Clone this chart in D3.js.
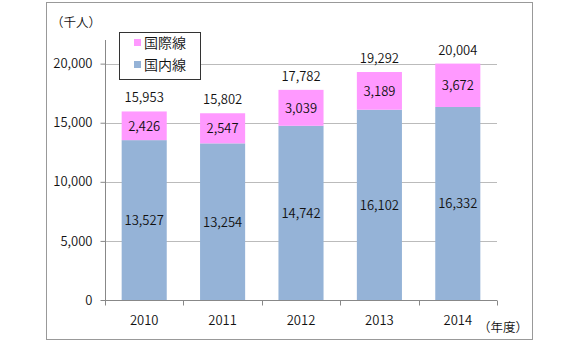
<!DOCTYPE html>
<html><head><meta charset="utf-8">
<script src="https://cdn.jsdelivr.net/npm/d3@7"></script>
<style>
body{margin:0;background:#fff;}
text{font-family:"Noto Sans CJK JP","Noto Sans",sans-serif;fill:#111;font-weight:350;}
</style></head>
<body><svg id="c" width="580" height="360"></svg>
<script>
const years = ["2010","2011","2012","2013","2014"];
const domestic = [13527,13254,14742,16102,16332];
const international = [2426,2547,3039,3189,3672];
const totals = [15953,15802,17782,19292,20004];
const yTicks = [0,5000,10000,15000,20000];
const seriesNames = ["国際線","国内線"];
const colors = {dom:"#95B3D7", intl:"#FF99FF"};

const svg = d3.select("#c");
const fmt = d3.format(",");
// outer border
svg.append("rect").attr("x",46.5).attr("y",2.5).attr("width",486).attr("height",337)
  .attr("fill","none").attr("stroke","#999").attr("stroke-width",1);

const pL=105, pR=497, pT=40, pB=300;
const x = d3.scaleBand().domain(years).range([pL,pR]).paddingInner(0.425).paddingOuter(0.2125);
const y = d3.scaleLinear().domain([0,22000]).range([pB,pT]);

// gridlines
svg.append("g").selectAll("line").data(yTicks.filter(d=>d>0)).join("line")
  .attr("x1",pL).attr("x2",pR).attr("y1",d=>Math.round(y(d))+0.5).attr("y2",d=>Math.round(y(d))+0.5)
  .attr("stroke","#bbb").attr("stroke-width",1);

// bars
const data = years.map((yr,i)=>({yr,dom:domestic[i],intl:international[i],tot:totals[i]}));
const g = svg.append("g");
g.selectAll("rect.dom").data(data).join("rect").attr("class","dom")
  .attr("x",d=>x(d.yr)).attr("width",x.bandwidth())
  .attr("y",d=>y(d.dom)).attr("height",d=>y(0)-y(d.dom)).attr("fill",colors.dom);
g.selectAll("rect.intl").data(data).join("rect").attr("class","intl")
  .attr("x",d=>x(d.yr)).attr("width",x.bandwidth())
  .attr("y",d=>y(d.dom+d.intl)).attr("height",d=>y(d.dom)-y(d.dom+d.intl)).attr("fill",colors.intl);

// axes
const yAxis = d3.axisLeft(y).tickValues(yTicks).tickFormat(fmt).tickSize(5).tickPadding(8);
const ya = svg.append("g").attr("transform",`translate(${pL+0.5},0)`).call(yAxis);
ya.select(".domain").attr("stroke","#888").attr("d",`M0,${pT}V${pB+0.5}`);
ya.selectAll(".tick line").attr("stroke","#888");
ya.selectAll(".tick text").attr("font-size",13).style("fill","#111").attr("font-family",'"Noto Sans CJK JP",sans-serif');

const xa = svg.append("g").attr("transform",`translate(0,${pB+0.5})`);
xa.append("line").attr("x1",pL).attr("x2",pR).attr("stroke","#888");
const bounds = d3.range(years.length+1).map(i=>pL + i*(pR-pL)/years.length);
xa.selectAll("line.t").data(bounds).join("line").attr("class","t")
  .attr("x1",d=>Math.round(d)+0.5).attr("x2",d=>Math.round(d)+0.5).attr("y1",0).attr("y2",5).attr("stroke","#888");
xa.selectAll("text").data(years).join("text")
  .attr("x",d=>x(d)+x.bandwidth()/2).attr("y",24).attr("text-anchor","middle").attr("font-size",13).text(d=>d);

// labels
g.selectAll("text.dl").data(data).join("text").attr("class","dl")
  .attr("x",d=>x(d.yr)+x.bandwidth()/2).attr("y",d=>y(d.dom/2)+5)
  .attr("text-anchor","middle").attr("font-size",13).text(d=>fmt(d.dom));
g.selectAll("text.il").data(data).join("text").attr("class","il")
  .attr("x",d=>x(d.yr)+x.bandwidth()/2).attr("y",d=>y(d.dom+d.intl/2)+5)
  .attr("text-anchor","middle").attr("font-size",13).text(d=>fmt(d.intl));
g.selectAll("text.tl").data(data).join("text").attr("class","tl")
  .attr("x",d=>x(d.yr)+x.bandwidth()/2).attr("y",d=>y(d.tot)-9)
  .attr("text-anchor","middle").attr("font-size",13).text(d=>fmt(d.tot));

// unit labels
svg.append("text").attr("x",76).attr("y",27).attr("text-anchor","middle").attr("font-size",12.5).text("（千人）");
svg.append("text").attr("x",503).attr("y",332).attr("text-anchor","middle").attr("font-size",12.5).text("（年度）");

// legend
const lg = svg.append("g");
lg.append("rect").attr("x",119.5).attr("y",32.5).attr("width",81).attr("height",47)
  .attr("fill","#fff").attr("stroke","#333").attr("stroke-width",1);
const items = [{n:seriesNames[0],c:colors.intl},{n:seriesNames[1],c:colors.dom}];
lg.selectAll("rect.s").data(items).join("rect").attr("class","s")
  .attr("x",134).attr("y",(d,i)=>39+i*22).attr("width",7).attr("height",7).attr("fill",d=>d.c);
lg.selectAll("text").data(items).join("text")
  .attr("x",144).attr("y",(d,i)=>48+i*22).attr("font-size",14).text(d=>d.n);
</script></body></html>
